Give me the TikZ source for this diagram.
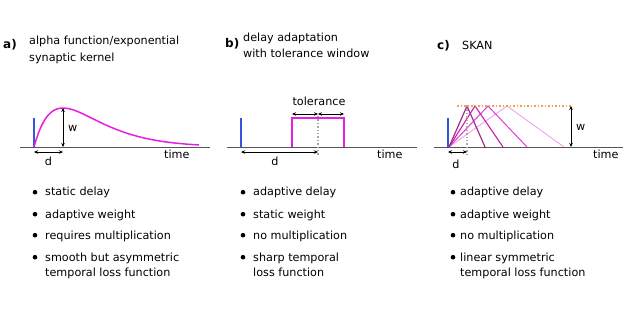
\documentclass[tikz,border=0pt]{standalone}
\usepackage{fontspec}
\setmainfont{DejaVu Sans}
\usetikzlibrary{arrows.meta}
\definecolor{mag}{HTML}{E81EE0}
\definecolor{bluebar}{HTML}{3355E0}
\definecolor{axisgray}{HTML}{555555}
\definecolor{orng}{HTML}{F0A050}
\definecolor{triA}{HTML}{A02E8C}
\definecolor{triB}{HTML}{C81EAE}
\definecolor{triC}{HTML}{E040D4}
\definecolor{triD}{HTML}{F2A2EE}
\begin{document}
\begin{tikzpicture}[x=1pt,y=-1pt,
  txt/.style={anchor=base west, inner sep=0pt, font=\fontsize{11.2}{14}\selectfont},
  ctxt/.style={anchor=base, inner sep=0pt, font=\fontsize{11.2}{14}\selectfont},
  lbl/.style={anchor=base west, inner sep=0pt, font=\fontsize{12}{14}\selectfont\bfseries},
  axisline/.style={axisgray, line width=0.9pt},
  spike/.style={bluebar, line width=1.6pt},
  dimarrow/.style={black, line width=0.8pt, {Stealth[length=4pt,width=3.5pt]}-{Stealth[length=4pt,width=3.5pt]}},
  guide/.style={gray!70, line width=1.4pt, dotted},
  bul/.style={fill=black}
]
\useasboundingbox[fill=white] (0,0) rectangle (640,310);

% ---------- Panel a ----------
\node[lbl] (la) at (3,49) {a)};
\node[txt] (ta1) at (29,45) {alpha function/exponential};
\node[txt] (ta2) at (29,62) {synaptic kernel};
\coordinate (a0) at (20,147); \coordinate (a1) at (210,147);
\draw[axisline] (a0) -- (a1);
\coordinate (aS0) at (34,147); \coordinate (aS1) at (34,118);
\draw[spike] (aS0) -- (aS1);
\draw[mag, line width=1.5pt] plot[domain=0:165, samples=90] ({34+\x}, {147 - 39*(\x/29)*exp(1-\x/29)});
\coordinate (aw0) at (63,108); \coordinate (aw1) at (63,147);
\draw[dimarrow] (aw0) -- (aw1);
\node[txt] (aw) at (68,132) {w};
\coordinate (ad0) at (34,152); \coordinate (ad1) at (63,152);
\draw[dimarrow] (ad0) -- (ad1);
\node[ctxt] (ad) at (48.5,166) {d};
\node[txt] (at) at (164,159) {time};

\foreach \yy/\tx [count=\i] in {196/static delay, 218/adaptive weight, 239/requires multiplication, 261/smooth but asymmetric}
  { \fill[bul] (35,\yy-3.8) circle (2.3pt); \node[txt] (abl\i) at (45,\yy) {\tx}; }
\node[txt] (abl5) at (45,276) {temporal loss function};

% ---------- Panel b ----------
\node[lbl] (lb) at (225,48) {b)};
\node[txt] (tb1) at (243,42) {delay adaptation};
\node[txt] (tb2) at (243,58) {with tolerance window};
\coordinate (b0) at (227,147); \coordinate (b1) at (417,147);
\draw[axisline] (b0) -- (b1);
\coordinate (bS0) at (241,147); \coordinate (bS1) at (241,118);
\draw[spike] (bS0) -- (bS1);
\coordinate (bR0) at (292,147); \coordinate (bR1) at (292,118);
\coordinate (bR2) at (344,118); \coordinate (bR3) at (344,147);
\draw[mag, line width=1.6pt] (bR0) -- (bR1) -- (bR2) -- (bR3);
\coordinate (bg0) at (318,116); \coordinate (bg1) at (318,155);
\draw[guide] (bg0) -- (bg1);
\coordinate (bt0) at (292,114); \coordinate (bt1) at (318,114); \coordinate (bt2) at (344,114);
\draw[dimarrow] (bt0) -- (bt1);
\draw[dimarrow] (bt1) -- (bt2);
\node[ctxt] (btol) at (319,106) {tolerance};
\coordinate (bd0) at (241,152); \coordinate (bd1) at (318,152);
\draw[dimarrow] (bd0) -- (bd1);
\node[ctxt] (bd) at (275,165) {d};
\node[txt] (bt) at (377,159) {time};

\foreach \yy/\tx [count=\i] in {196/adaptive delay, 218/static weight, 239/no multiplication, 261/sharp temporal}
  { \fill[bul] (243,\yy-3.8) circle (2.3pt); \node[txt] (bbl\i) at (253,\yy) {\tx}; }
\node[txt] (bbl5) at (253,276) {loss function};

% ---------- Panel c ----------
\node[lbl] (lc) at (437,50) {c)};
\node[txt] (tc1) at (462,50) {SKAN};
\coordinate (c0) at (434,147); \coordinate (c1) at (623,147);
\draw[axisline] (c0) -- (c1);
\coordinate (cS0) at (448,147); \coordinate (cS1) at (448,118);
\coordinate (cT0) at (449,147);
% triangles
\coordinate (p4) at (507,106); \coordinate (e4) at (564,147);
\coordinate (p3) at (488,106); \coordinate (e3) at (527,147);
\coordinate (p2) at (475,106); \coordinate (e2) at (503,147);
\coordinate (p1) at (467,106); \coordinate (e1) at (485,147);
\draw[triD, line width=0.9pt] (cT0) -- (p4) -- (e4);
\draw[triC, line width=1.0pt] (cT0) -- (p3) -- (e3);
\draw[triB, line width=1.1pt] (cT0) -- (p2) -- (e2);
\draw[triA, line width=1.2pt] (cT0) -- (p1) -- (e1);
\coordinate (co0) at (457,106); \coordinate (co1) at (572,106);
\draw[orng, line width=1.5pt, dotted] (co0) -- (co1);
\draw[spike] (cS0) -- (cS1);
\coordinate (cg0) at (467,106); \coordinate (cg1) at (467,155);
\draw[guide] (cg0) -- (cg1);
\coordinate (cw0) at (571,106); \coordinate (cw1) at (571,147);
\draw[dimarrow] (cw0) -- (cw1);
\node[txt] (cw) at (576,131) {w};
\coordinate (cd0) at (448,152); \coordinate (cd1) at (467,152);
\draw[dimarrow] (cd0) -- (cd1);
\node[ctxt] (cd) at (456,168) {d};
\node[txt] (ct) at (593,159) {time};

\foreach \yy/\tx [count=\i] in {196/adaptive delay, 218/adaptive weight, 239/no multiplication, 261/linear symmetric}
  { \fill[bul] (453,\yy-3.8) circle (2.3pt); \node[txt] (cbl\i) at (460,\yy) {\tx}; }
\node[txt] (cbl5) at (460,276) {temporal loss function};
\end{tikzpicture}
\end{document}
